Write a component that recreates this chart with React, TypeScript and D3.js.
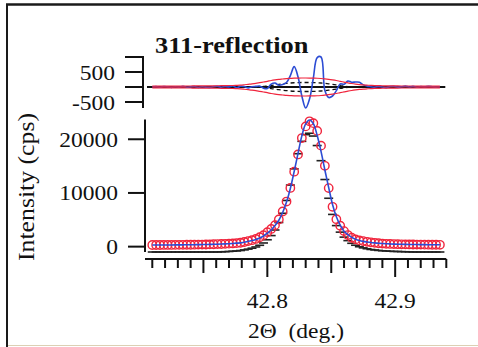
import { useEffect, useRef } from "react";
import * as d3 from "d3";

// 2-theta grid of the measured points (deg.)
const twoTheta = [
  42.71, 42.713, 42.716, 42.719, 42.722, 42.725, 42.728, 42.731, 42.734, 42.737,
  42.74, 42.743, 42.746, 42.749, 42.752, 42.755, 42.758, 42.761, 42.764, 42.767,
  42.77, 42.773, 42.776, 42.779, 42.782, 42.785, 42.788, 42.791, 42.794, 42.797,
  42.8, 42.803, 42.806, 42.809, 42.812, 42.815, 42.818, 42.821, 42.824, 42.827,
  42.83, 42.833, 42.836, 42.839, 42.842, 42.845, 42.848, 42.851, 42.854, 42.857,
  42.86, 42.863, 42.866, 42.869, 42.872, 42.875, 42.878, 42.881, 42.884, 42.887,
  42.89, 42.893, 42.896, 42.899, 42.902, 42.905, 42.908, 42.911, 42.914, 42.917,
  42.92, 42.923, 42.926, 42.929, 42.932, 42.935,
];

// red open circles (cps)
const observed = [
  300, 300, 305, 310, 315, 320, 322, 330, 338, 347,
  355, 364, 375, 391, 400, 418, 442, 467, 493, 521,
  557, 600, 652, 726, 865, 1035, 1195, 1435, 1750, 2140,
  2690, 3300, 4000, 5070, 6540, 8400, 10930, 13960, 17170, 20230,
  22400, 23350, 23000, 21560, 18810, 15050, 10900, 7420, 5110, 3900,
  2890, 2150, 1650, 1350, 1160, 1030, 900, 800, 710, 630,
  575, 530, 496, 470, 453, 435, 419, 406, 397, 389,
  380, 371, 363, 354, 346, 337,
];

// black dash markers (cps)
const reference = [
  -1000, -1000, -1000, -1000, -1000, -1000, -1000, -1000, -1000, -1000,
  -1000, -1000, -1000, -1000, -1000, -1000, -1000, -1000, -970, -940,
  -905, -850, -805, -725, -610, -465, -290, -60, 250, 680,
  1280, 2060, 3100, 4490, 6210, 8600, 11470, 14490, 17310, 19610,
  20860, 21120, 20600, 18830, 16010, 12500, 9010, 6000, 3920, 2700,
  1770, 1120, 620, 260, -20, -230, -395, -530, -620, -705,
  -770, -810, -855, -900, -900, -935, -950, -975, -1000, -1000,
  -1000, -1000, -1000, -1000, -1000, -1000,
];

// blue fitted profile (cps)
const fitted = [
  290, 293, 298, 303, 308, 314, 320, 327, 335, 343,
  352, 361, 371, 384, 398, 413, 432, 455, 480, 510,
  545, 590, 645, 700, 830, 990, 1140, 1330, 1620, 1990,
  2500, 3100, 3930, 4920, 6350, 8300, 10830, 14000, 17370, 20630,
  22860, 23600, 22900, 20700, 17740, 14280, 11000, 7860, 5560, 4000,
  2880, 2230, 1720, 1380, 1140, 980, 870, 775, 700, 635,
  585, 540, 505, 475, 454, 436, 420, 407, 398, 389,
  380, 371, 363, 354, 346, 337,
];

// top panel: difference (blue), red envelope, black dashed envelope
const residual = [
  0, 12, -8, 15, 5, -12, 8, -5, 20, -8,
  5, 15, -15, 10, -5, -12, 15, 25, -8, 20,
  5, 35, -25, 25, 15, -30, 10, 20, 30, -40,
  -50, 95, 130, 60, 80, 150, 380, 680, 340, -300,
  -700, -400, 300, 980, 1000, -120, -350, -300, -120, 100,
  90, 200, 160, 165, 160, 70, 30, 10, -10, 20,
  0, -20, 15, 25, -5, 10, 30, 0, 20, -10,
  15, 5, 20, 10, -5, 10,
];

const envelope = [
  30, 30, 30, 30, 30, 30, 31, 32, 32, 33,
  34, 35, 36, 37, 38, 39, 40, 42, 44, 47,
  50, 50, 55, 62, 75, 90, 105, 123, 145, 167,
  190, 217, 238, 254, 267, 280, 288, 294, 298, 300,
  300, 299, 295, 291, 283, 272, 257, 238, 216, 190,
  165, 139, 116, 97, 81, 69, 60, 53, 48, 44,
  41, 40, 38, 36, 35, 34, 34, 33, 33, 32,
  32, 31, 31, 30, 30, 30,
];

const sigma = [
  0, 0, 0, 0, 0, 0, 0, 0, 0, 0,
  0, 0, 0, 0, 0, 0, 0, 0, 0, 0,
  0, 0, 0, 0, 0, 0, 0, 0, 5, 16,
  34, 51, 71, 91, 107, 120, 133, 142, 148, 150,
  150, 150, 145, 141, 133, 122, 107, 88, 67, 45,
  28, 11, 0, 0, 0, 0, 0, 0, 0, 0,
  0, 0, 0, 0, 0, 0, 0, 0, 0, 0,
  0, 0, 0, 0, 0, 0,
];

const intensityTicks = [0, 10000, 20000];
const diffTicks = [-500, 0, 500, 1000];
const diffLabels = [-500, 500];
const xLabelTicks = [42.8, 42.9];

const RED = "#f0253d";
const BLUE = "#2c4cd4";
const FONT = "Liberation Serif";

export default function App() {
  const svgRef = useRef<SVGSVGElement>(null);

  useEffect(() => {
    const width = 478;
    const height = 347;

    const svg = d3.select(svgRef.current);
    svg.selectAll("*").remove();
    svg.attr("width", width).attr("height", height);

    const x = d3.scaleLinear().domain([42.7043, 42.94]).range([145, 446.3]);
    const y = d3.scaleLinear().domain([-1000, 23700]).range([252, 119.4]);
    const yRes = d3.scaleLinear().domain([-700, 1000]).range([108, 57]);

    // serif text, stretched a little like the scanned figure
    const label = (
      tx: number,
      ty: number,
      str: string,
      size: number,
      anchor: string,
      opts: { bold?: boolean; rotate?: boolean; sx?: number } = {}
    ) => {
      const sx = opts.sx ?? 1.12;
      svg
        .append("text")
        .attr(
          "transform",
          `translate(${tx},${ty})${opts.rotate ? " rotate(-90)" : ""} scale(${sx},1)`
        )
        .attr("text-anchor", anchor)
        .attr("font-family", FONT)
        .attr("font-size", size)
        .attr("font-weight", opts.bold ? "bold" : "normal")
        .attr("fill", "#111")
        .text(str);
    };

    // frame of the scanned figure
    svg.append("line").attr("x1", 6).attr("x2", width).attr("y1", 4.5).attr("y2", 4.5)
      .attr("stroke", "#1a1a1a").attr("stroke-width", 2.5);
    svg.append("line").attr("x1", 7).attr("x2", 7).attr("y1", 4).attr("y2", height)
      .attr("stroke", "#1a1a1a").attr("stroke-width", 2);
    svg.append("line").attr("x1", 8).attr("x2", width).attr("y1", 345.5).attr("y2", 345.5)
      .attr("stroke", "#dcd0b4").attr("stroke-width", 1);

    // ---- top (difference) panel ----
    svg.append("line")
      .attr("x1", 143).attr("x2", 143)
      .attr("y1", yRes(1000) - 1).attr("y2", yRes(-700))
      .attr("stroke", "#111").attr("stroke-width", 2);

    svg.selectAll("line.dtick")
      .data(diffTicks)
      .enter()
      .append("line")
      .attr("class", "dtick")
      .attr("x1", 125).attr("x2", 143)
      .attr("y1", d => yRes(d)).attr("y2", d => yRes(d))
      .attr("stroke", "#111").attr("stroke-width", 2);

    diffLabels.forEach(d => label(115, yRes(d) + 7.5, String(d), 21, "end"));

    svg.append("line")
      .attr("x1", x.range()[0] + 2).attr("x2", x.range()[1] - 1)
      .attr("y1", yRes(0)).attr("y2", yRes(0))
      .attr("stroke", "#111").attr("stroke-width", 2);

    const idx = d3.range(twoTheta.length);

    const sigLine = (sign: number) =>
      d3.line<number>()
        .defined(i => i >= 27 && i <= 52)
        .x(i => x(twoTheta[i]))
        .y(i => yRes(sign * sigma[i]))
        .curve(d3.curveMonotoneX);

    [1, -1].forEach(s => {
      svg.append("path")
        .attr("d", sigLine(s)(idx))
        .attr("fill", "none")
        .attr("stroke", "#111")
        .attr("stroke-width", 1.3)
        .attr("stroke-dasharray", "4,3");
    });

    svg.append("path")
      .attr("d", d3.line<number>()
        .x(i => x(twoTheta[i]))
        .y(i => yRes(residual[i]))
        .curve(d3.curveCatmullRom)(idx))
      .attr("fill", "none")
      .attr("stroke", BLUE)
      .attr("stroke-width", 1.6);

    [1, -1].forEach(s => {
      svg.append("path")
        .attr("d", d3.line<number>()
          .x(i => x(twoTheta[i]))
          .y(i => yRes(s * envelope[i]))
          .curve(d3.curveMonotoneX)(idx))
        .attr("fill", "none")
        .attr("stroke", RED)
        .attr("stroke-width", 1.2);
    });

    label(155, 53, "311-reflection", 24, "start", { bold: true, sx: 1.1 });

    // ---- main panel ----
    svg.append("line")
      .attr("x1", 145).attr("x2", 145)
      .attr("y1", y.range()[1]).attr("y2", y.range()[0])
      .attr("stroke", "#111").attr("stroke-width", 2);

    svg.selectAll("line.ytick")
      .data(intensityTicks)
      .enter()
      .append("line")
      .attr("class", "ytick")
      .attr("x1", 128).attr("x2", 145)
      .attr("y1", d => y(d)).attr("y2", d => y(d))
      .attr("stroke", "#111").attr("stroke-width", 2);

    intensityTicks.forEach(d => label(118, y(d) + 7.5, String(d), 21, "end"));

    // x axis
    const xAxisY = 259;
    svg.append("line")
      .attr("x1", x.range()[0]).attr("x2", x.range()[1])
      .attr("y1", xAxisY).attr("y2", xAxisY)
      .attr("stroke", "#111").attr("stroke-width", 2);

    const xTicks = d3.range(4271, 4295).map(v => v / 100);
    svg.selectAll("line.xtick")
      .data(xTicks)
      .enter()
      .append("line")
      .attr("class", "xtick")
      .attr("x1", d => x(d)).attr("x2", d => x(d))
      .attr("y1", xAxisY)
      .attr("y2", d => {
        const k = Math.round(d * 100);
        if (k % 10 === 0) return xAxisY + 18;
        if (k % 5 === 0) return xAxisY + 14;
        return xAxisY + 9;
      })
      .attr("stroke", "#111").attr("stroke-width", 2);

    xLabelTicks.forEach(d => label(x(d), 308, d.toFixed(1), 21, "middle"));
    label(296, 338, "2\u0398\u00a0\u00a0(deg.)", 21, "middle");
    label(34, 187, "Intensity (cps)", 23, "middle", { rotate: true, sx: 1.12 });

    // black dash markers
    svg.selectAll("line.ref")
      .data(idx)
      .enter()
      .append("line")
      .attr("class", "ref")
      .attr("x1", i => x(twoTheta[i]) - 4.5)
      .attr("x2", i => x(twoTheta[i]) + 4.5)
      .attr("y1", i => y(reference[i]))
      .attr("y2", i => y(reference[i]))
      .attr("stroke", "#222")
      .attr("stroke-width", 1.6);

    // red open circles
    svg.selectAll("circle.obs")
      .data(idx)
      .enter()
      .append("circle")
      .attr("class", "obs")
      .attr("cx", i => x(twoTheta[i]))
      .attr("cy", i => y(observed[i]))
      .attr("r", 4.2)
      .attr("fill", "none")
      .attr("stroke", RED)
      .attr("stroke-width", 1.4);

    // blue fit
    svg.append("path")
      .attr("d", d3.line<number>()
        .x(i => x(twoTheta[i]))
        .y(i => y(fitted[i]))
        .curve(d3.curveCatmullRom)(idx))
      .attr("fill", "none")
      .attr("stroke", BLUE)
      .attr("stroke-width", 1.6);
  }, []);

  return (
    <svg
      ref={svgRef}
      style={{ position: "absolute", left: 0, top: 0, background: "#fff" }}
    />
  );
}
